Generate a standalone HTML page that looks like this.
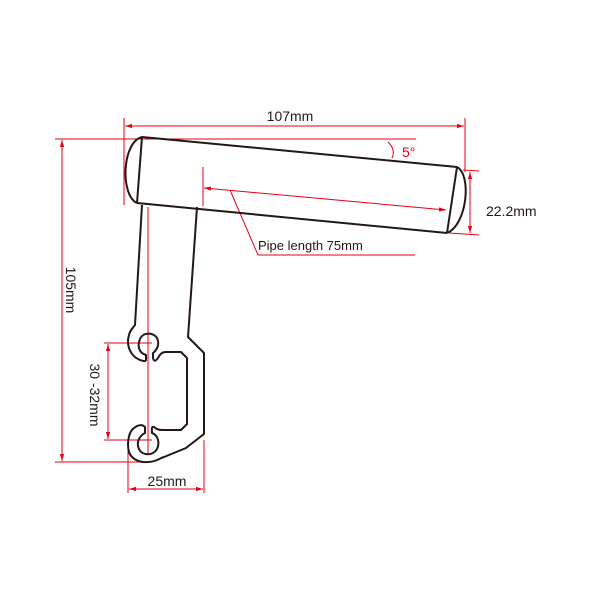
<!DOCTYPE html>
<html><head><style>body{margin:0;background:#fff}svg{display:block}</style></head>
<body>
<svg width="600" height="600" viewBox="0 0 600 600" xmlns="http://www.w3.org/2000/svg">
<defs>
<marker id="a" viewBox="0 0 10 10" refX="10" refY="5" markerWidth="7" markerHeight="7" orient="auto-start-reverse"><path d="M0,2 L10,5 L0,8 z" fill="#e60012"/></marker>
</defs>
<g stroke="#e60012" stroke-width="1" fill="none">
<line x1="124" y1="118" x2="124" y2="205"/>
<line x1="465" y1="118" x2="465" y2="172"/>
<line x1="125" y1="126" x2="464" y2="126" marker-start="url(#a)" marker-end="url(#a)"/>
<line x1="55" y1="139" x2="416" y2="139"/>
<path d="M388,142 Q396,150 392,158"/>
<line x1="203" y1="167" x2="203" y2="206"/>
<line x1="204" y1="188" x2="446" y2="210" marker-start="url(#a)" marker-end="url(#a)"/>
<polyline points="230,190 258,255 415,255"/>
<line x1="463" y1="170" x2="479" y2="171"/>
<line x1="449" y1="233" x2="479" y2="235"/>
<line x1="470" y1="172" x2="470" y2="233" marker-start="url(#a)" marker-end="url(#a)"/>
<line x1="55" y1="462" x2="150" y2="462"/>
<line x1="62" y1="140" x2="62" y2="461" marker-start="url(#a)" marker-end="url(#a)"/>
<line x1="148" y1="207" x2="148" y2="455"/>
<line x1="104" y1="343" x2="152" y2="343"/>
<line x1="104" y1="440" x2="152" y2="440"/>
<line x1="108" y1="344" x2="108" y2="439" marker-start="url(#a)" marker-end="url(#a)"/>
<line x1="128" y1="448" x2="128" y2="493"/>
<line x1="204" y1="440" x2="204" y2="493"/>
<line x1="129" y1="489" x2="203" y2="489" marker-start="url(#a)" marker-end="url(#a)"/>
</g>
<g stroke="#231815" stroke-width="2" fill="none" stroke-linejoin="round">
<path d="M142,137 L457,167"/>
<path d="M137,203 L447,233"/>
<path d="M142,137 L137,203"/>
<path d="M457,167 L447,233"/>
<path d="M142,137 C122,142 120,195 137,203"/>
<path d="M457,167 C472,175 467,225 447,233"/>
<path d="M142,205 L135,325 C133,328 130,330 129,335 C126,345 130,356 140,360 C143,361 145,362 146,360 L146,355 C139,353 137,346 140,339 C143,332 153,332 157,338 C160,344 157,350 153,353 L153,358 C154,362 156,361 158,358 C160,354 162,352 166,352 L181,352 L187,358 L187,424 L181,430 L162,430 C158,430 156,429 154,427 C151,426 152,430 152,433 C158,435 160,443 157,449 C153,456 142,456 139,449 C136,443 139,436 145,433 L145,427 C142,424 138,425 134,428 C128,432 127,445 129,452 C131,458 138,463 148,462 C156,462 160,458 164,457 L186,448 L204,434 L204,353 L188,337 L197,207"/>
</g>
<g font-family="Liberation Sans, sans-serif" font-size="14" fill="#231815">
<text x="290" y="121" text-anchor="middle">107mm</text>
<text x="402" y="157" fill="#e60012">5°</text>
<text x="486" y="216">22.2mm</text>
<text x="258" y="250" font-size="13">Pipe length 75mm</text>
<text x="167" y="486" text-anchor="middle">25mm</text>
<text transform="translate(66,290) rotate(90)" text-anchor="middle">105mm</text>
<text transform="translate(90,395) rotate(90)" text-anchor="middle">30 -32mm</text>
</g>
</svg>
</body></html>
